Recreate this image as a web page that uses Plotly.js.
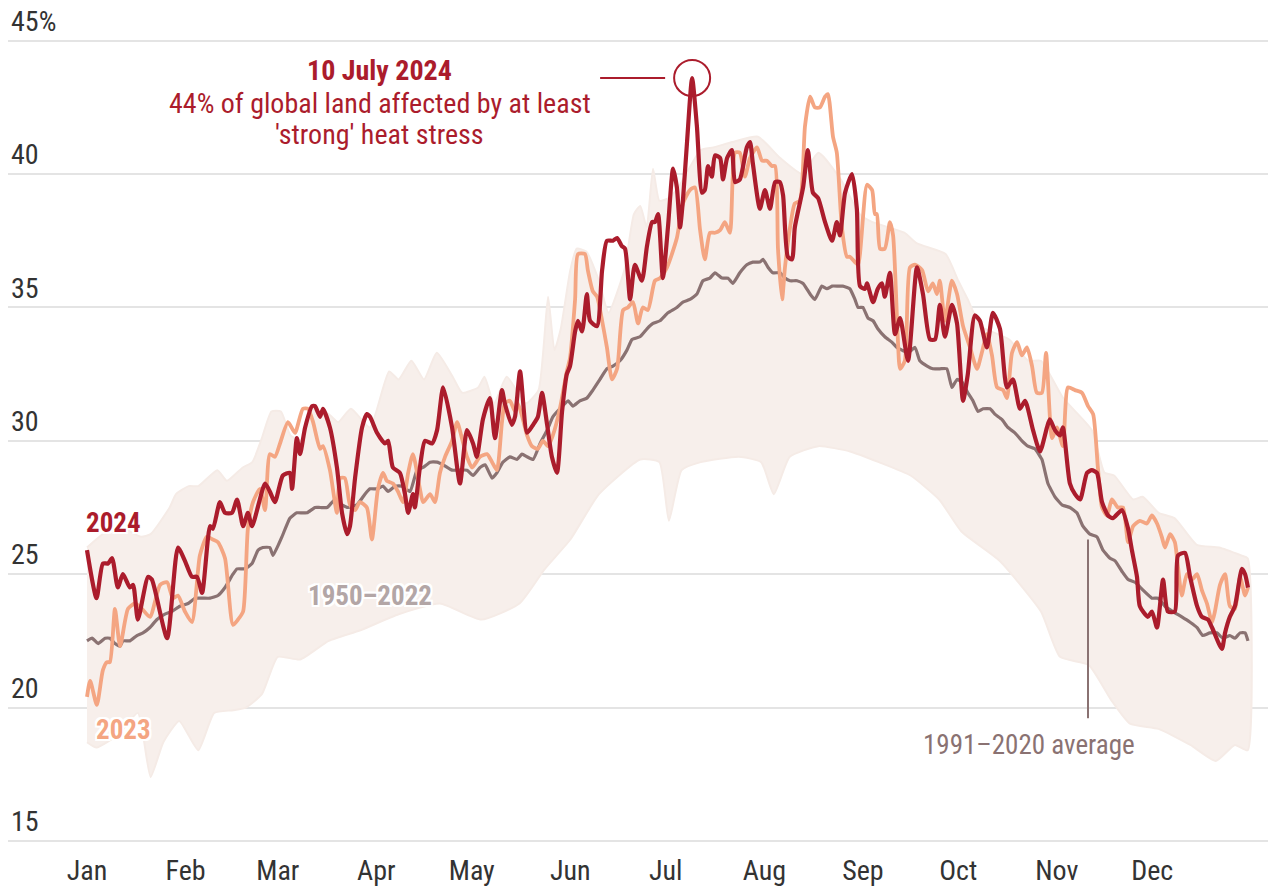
<!DOCTYPE html>
<html>
<head>
<meta charset="utf-8">
<script src="https://cdn.plot.ly/plotly-3.0.1.min.js"></script>
<style>
html,body{margin:0;padding:0;background:#fff;}
#chart{width:1268px;height:891px;}
</style>
</head>
<body>
<div id="chart"></div>
<script>
// ---- Data (day of year, % of global land with at least 'strong' heat stress) ----
const monthDays = [1,32,61,92,122,153,183,214,245,275,306,336];
const monthLabels = ["Jan","Feb","Mar","Apr","May","Jun","Jul","Aug","Sep","Oct","Nov","Dec"];
const yTickVals = [15,20,25,30,35,40,45];
const yTickText = ["15","20","25","30","35","40","45%"];

const days2024 = [1,4,6,7.6,8.9,10.7,12.3,14.5,15.5,17,20.2,21.4,26.2,29.6,31.8,34,35.6,37.2,39.7,40.6,42.8,44.4,46.6,48.2,50.1,51.6,52.9,57,58.5,60.1,62.6,64.8,65.5,67,68,69.6,71.8,72.7,74.3,75.2,77.4,79.6,81.2,82.8,83.7,85.3,87.5,89,90,92.2,94.7,95.7,97.2,99.4,101,102,103.5,104.1,105.7,107.3,109.5,111.1,113,115.8,118.3,120.5,122.4,123.6,125.5,127.7,129.3,131.5,132.4,134.6,135.6,137.2,139.4,141.3,142.8,144.1,145.7,147.2,148.8,150.4,151.9,152.9,154.5,155.4,156.7,158.2,159.2,161.4,163,164.5,166.4,167.7,169.2,170.2,171.8,173.3,175.5,177.1,178.7,179.6,180.6,182.1,183.7,185.3,186.5,187.5,188.4,189.7,191.3,192.8,194.4,195.3,196.3,197.5,198.5,200.1,201,202.3,203.8,204.8,206.3,208.5,209.5,210.4,212.6,214.2,215.8,217.4,218.9,219.9,221.4,222.7,223.6,226.2,227.7,229.3,230.9,233.1,235.3,236.8,237.8,239.4,241.6,243.1,244.1,245.7,246.3,248.2,249.7,251,251.9,253.5,255.1,256.7,259.2,262,263.9,266.1,267.7,269.2,270.8,273,274.6,276.5,278,280.2,281.8,284,285.9,288.1,290.3,292.2,294.4,296,298.5,300.7,302.9,303.8,305.4,307,307.9,310.1,311.7,313.3,315.5,317,318.6,320.2,322.1,323.6,326.5,328.4,329.6,331.2,332.1,334.6,335.9,337.5,339.4,340.9,343.1,344.1,346.3,347.9,350.1,351.6,353.5,354.8,357.9,358.9,360.4,362,364.2,365.2,366.1];
const vals2024 = [25.9,24.1,25.4,25.4,25.6,24.5,25.0,24.5,24.6,23.3,24.9,24.8,22.6,26.0,25.5,24.9,24.9,24.3,26.8,26.7,27.7,27.3,27.3,27.8,26.8,27.3,26.8,28.4,28.1,27.7,28.7,28.8,28.2,30.1,29.5,30.5,31.3,31.3,30.9,31.2,30.5,29.0,27.3,26.5,26.8,28.6,30.5,31.0,30.9,30.3,29.9,30.0,29.0,28.8,28.0,27.3,28.0,27.5,29.0,30.0,29.9,30.4,32.0,30.5,28.4,30.4,29.9,29.4,30.8,31.6,30.1,31.9,31.4,30.6,30.9,32.6,30.3,30.6,30.9,31.8,30.6,29.4,28.8,31.1,32.5,32.8,34.1,34.5,34.1,35.5,34.5,34.3,36.4,37.5,37.5,37.6,37.3,37.2,35.3,36.6,36.0,37.3,38.2,38.2,38.5,36.1,38.0,40.2,39.5,38.0,39.0,41.2,43.6,41.8,39.3,39.4,40.3,39.9,40.7,40.6,39.8,40.6,40.9,39.7,39.8,41.0,41.2,40.4,38.7,39.4,38.7,39.7,39.7,39.2,36.9,36.8,38.0,39.5,40.9,39.3,39.1,38.2,37.5,38.2,37.7,39.3,40.0,38.7,35.8,35.7,35.9,35.2,35.7,35.9,35.4,36.3,34.0,34.6,33.0,36.5,35.5,33.8,33.8,35.1,33.9,35.1,34.4,31.5,32.5,34.7,34.5,33.5,34.8,34.2,32.0,32.3,31.2,31.5,30.4,29.6,30.5,30.8,30.4,30.2,30.5,28.4,28.0,27.8,28.8,28.9,28.8,27.7,27.2,27.1,27.4,26.7,25.9,24.9,23.8,23.4,23.6,23.0,24.8,23.6,23.6,25.7,25.8,24.9,23.8,23.4,23.3,23.0,22.2,22.8,23.4,23.8,25.2,25.0,24.5];

const days2023 = [1,2,4.1,6,7.3,8.2,9.8,11.4,13.9,16.1,18.3,20.8,24,26.2,28,29.6,31.8,34,36.5,38.7,40.6,42.2,44.4,46.9,48.5,50.1,51.6,53.2,55.4,57,58.5,60.1,61.7,64.2,66.4,68.9,70.5,72.1,74.3,75.2,77.4,79.6,80.6,82.1,83.7,85.3,86.8,89,90.6,92.5,94.1,95.3,97.2,98.8,100.4,102,103.5,105.7,106.7,108.9,110.4,112,113.6,115.8,117.4,118.9,120.5,122.1,124.6,126.8,128.4,129.9,131.5,132.4,134,135.6,136.5,138.1,139.4,140.9,142.8,144.4,146,147.5,149.7,151.9,152.9,154.5,155.4,157.6,158.5,160.1,161.4,163,164.5,166.1,167.7,169.6,171.1,172.7,174.3,175.8,177.4,179.6,181.2,183.4,186.5,188.4,190.6,192.2,193.8,195.3,196.9,198.5,200.1,201.6,203.2,204.8,206.3,207.9,209.5,211.7,213.3,214.8,216.4,217.4,218.3,219.6,220.5,222.1,223.6,225.2,226.8,228.4,229.9,231.5,233.1,234,235.6,236.8,238.4,240,240.9,242.5,243.5,246.3,247.9,248.8,249.4,250.4,251.9,253.5,254.5,256,256.7,258.2,259.8,261.4,263.6,265.5,267,268.3,269.2,270.8,273,274.6,276.5,278.7,280.9,282.4,284,285.6,287.2,289.1,290.3,291.9,293.5,295,296.6,298.2,299.7,301.3,302.6,304.5,306,307.9,309.5,311.7,313.9,315.8,317.4,318.9,320.2,321.8,323.3,325.2,326.8,328.4,330,332.1,334.3,335.9,337.5,339,340,341.6,343.1,343.8,345.3,346.9,348.5,350.1,351.6,353.2,354.8,355.7,357.3,358.9,360.4,362,363.6,365.2,366.1];
const vals2023 = [20.4,21.0,20.1,21.4,21.7,21.7,23.7,22.3,23.7,23.9,23.7,23.4,24.6,24.7,24.1,24.2,23.6,23.2,25.7,26.4,26.3,26.2,25.6,23.1,23.3,23.6,26.7,27.7,28.2,27.4,29.5,29.4,29.9,30.7,30.3,31.2,31.2,30.7,29.7,29.8,28.9,27.3,28.6,28.6,27.6,27.4,27.7,27.5,26.3,28.2,28.8,28.5,28.4,28.1,27.7,28.8,29.5,28.2,27.7,28.0,27.7,28.8,29.4,30.0,30.7,30.1,29.4,29.0,29.4,29.5,29.2,28.9,30.7,31.4,31.5,31.1,31.4,30.8,30.2,29.8,29.7,30.0,29.8,30.2,31.2,32.6,33.1,35.3,37.0,37.0,36.4,35.6,35.4,34.5,33.5,32.3,32.7,34.9,35.0,35.2,34.4,35.0,34.9,36.0,36.1,36.5,37.6,38.9,39.4,39.5,37.9,36.8,37.8,37.8,37.9,38.2,37.8,40.8,40.8,39.9,40.6,41.0,40.5,40.5,40.3,40.3,37.2,35.3,36.5,38.0,38.9,39.0,41.8,42.9,42.5,42.5,42.9,43.0,41.4,40.8,38.0,36.9,36.9,36.7,36.6,39.6,39.4,38.5,38.5,37.2,37.2,38.2,37.7,33.8,32.7,33.0,36.5,36.6,36.4,35.6,35.9,35.5,36.0,34.5,36.0,35.5,34.3,33.5,32.7,33.3,34.0,33.2,32.0,31.9,31.6,33.3,33.7,33.2,33.5,32.8,31.8,31.8,33.3,30.1,30.5,29.8,32.0,31.9,31.8,31.3,31.0,29.0,27.5,27.2,27.8,27.5,27.5,26.2,26.8,27.0,26.9,27.2,26.9,26.4,26.0,26.5,26.2,25.6,24.2,25.0,24.8,25.0,24.4,23.9,23.2,23.6,24.6,25.0,23.8,23.7,24.9,24.2,24.5];

const daysAvg = [1,2.6,4.5,6.7,8.2,9.8,11.4,12.3,14.5,16.7,18.6,20.8,23,25.5,27.7,30.2,32.8,35,37.5,39.7,42.2,44.4,46.9,48.2,50.7,52.9,54.8,56.3,58.5,59.5,62.3,64.8,67,68.6,70.2,72.7,74.3,76.5,79,81.2,83.1,85.9,88.4,90,92.2,94.1,95.7,97.9,100.1,102.6,104.8,106.7,108.9,111.1,113,115.8,117.7,120.5,122.4,124.6,126.2,128.4,129.9,131.8,134,136.2,137.8,139.4,141.3,143.5,145.7,147.5,149.7,152.3,153.8,156,158.2,160.1,162.3,164.5,166.4,168.6,170.8,172.4,174.9,177.1,179,181.2,183.7,186.5,188.4,190.6,192.8,194.7,196.9,198.5,200.7,202.6,204.1,206.3,208.5,210.4,212.6,213.6,215.2,216.7,218.9,220.5,222.1,224.3,226.2,228.4,229.9,232.1,233.7,235.3,237.2,238.7,240.9,242.5,243.5,245,246.6,248.2,249.7,251.9,254.1,255.7,257.3,259.2,261.4,262.9,265.2,267,269.2,271.4,273,274.6,276.2,278,279.6,281.2,282.8,285,286.5,288.7,290.6,292.8,295,296.9,299.1,301.3,303.2,305.4,307.6,310.1,312.3,314.2,316.4,318.6,320.5,322.7,324.3,326.5,328.4,330.6,333.1,335.9,337.8,340,342.5,345.3,347.9,350.1,351.9,354.1,356.3,358.2,360.4,362,363.6,365.2,366.1];
const valsAvg = [22.5,22.6,22.4,22.6,22.6,22.4,22.3,22.5,22.5,22.7,22.8,23.0,23.3,23.5,23.6,23.8,23.9,24.1,24.1,24.1,24.2,24.5,25.0,25.2,25.2,25.4,25.9,26.0,26.0,25.7,26.4,27.1,27.3,27.3,27.3,27.5,27.5,27.5,27.8,27.6,27.5,27.6,28.0,28.2,28.2,28.3,28.1,28.3,28.3,28.1,28.9,29.0,29.2,29.2,29.1,28.9,28.9,28.9,28.7,29.0,29.1,28.6,28.8,29.2,29.4,29.3,29.5,29.4,29.3,29.9,30.4,30.9,31.2,31.5,31.3,31.5,31.6,31.9,32.3,32.7,32.8,33.0,33.4,33.8,33.9,34.2,34.4,34.5,34.8,35.0,35.2,35.3,35.5,36.0,36.1,36.3,36.1,36.1,35.9,36.3,36.6,36.7,36.7,36.8,36.5,36.3,36.3,36.1,36.0,36.0,35.9,35.5,35.3,35.8,35.7,35.8,35.8,35.8,35.7,35.3,35.0,35.0,34.6,34.5,34.2,33.9,33.7,33.5,33.4,33.3,33.5,33.0,32.8,32.7,32.7,32.7,32.0,32.3,32.2,31.8,31.5,31.1,31.2,31.2,31.0,30.8,30.5,30.3,30.0,29.8,29.7,29.3,28.4,27.9,27.6,27.5,27.3,26.8,26.5,26.4,25.9,25.6,25.5,25.1,24.8,24.7,24.4,24.1,24.1,23.8,23.6,23.4,23.2,23.0,22.7,22.8,22.8,22.6,22.7,22.6,22.8,22.8,22.5];

// 1950–2022 range: upper and lower edges of the bundle of past years
const daysBandHigh = [1,6,11,18,21,27,29,33,36,42,45,50,53,56,59,62,65,69,71,77,80,84,90,96,99,103,107,111,116,119,124,126,129,133,139,143,146,148,150,153,155,158,162,165,170,173,175,177,179,181,184,187,194,198,204,212,219,226,231,238,244,248,258,262,271,275,278,282,291,297,301,308,317,321,324,330,333,338,343,350,357,364,366];
const valsBandHigh = [26.0,26.5,26.8,26.4,26.5,27.5,28.0,28.3,28.3,28.9,28.5,29.0,29.2,30.1,31.1,31.1,30.2,30.0,31.2,31.0,30.7,31.2,30.5,32.6,32.3,33.0,32.3,33.3,32.4,31.8,32.0,32.4,31.4,32.4,31.4,31.9,35.4,33.4,34.2,36.4,37.2,37.1,36.0,34.8,36.4,38.5,38.8,38.0,40.2,39.0,39.1,39.5,40.9,41.0,41.2,41.4,40.6,40.0,40.8,39.8,38.5,38.2,37.8,37.4,37.0,36.0,35.3,34.3,33.8,33.0,33.0,31.6,30.4,28.8,28.7,27.8,27.9,27.3,27.1,26.1,26.0,25.7,25.6];
const daysBandLow = [1,4,11,17,21,25,30,36,41,47,51,56,61,68,77,87,99,112,125,137,145,153,162,175,181,184,188,194,206,213,217,222,231,241,250,260,269,276,288,301,307,316,323,329,338,348,356,362,366];
const valsBandLow = [18.7,18.5,19.0,19.8,17.4,18.7,19.5,18.4,19.8,19.9,20.0,20.5,21.9,21.8,22.5,22.9,23.5,23.9,23.3,23.9,25.2,26.3,28.0,29.3,29.2,27.0,28.9,29.2,29.4,29.2,28.0,29.4,29.8,29.6,29.2,28.7,27.8,26.6,25.5,23.6,21.9,21.6,20.3,19.4,19.2,18.6,18.0,18.6,18.4];

const peakDay = 191.3, peakVal = 43.6;

// ---- Styling ----
const FONT = "'Roboto Condensed', 'Roboto', sans-serif";
const RED = "#ab1c2c", ORANGE = "#f4a582", AVG = "#8a7272", BAND = "#f7efeb", BANDLINE = "#f5ebe6";
const halo = "-2px -2px 0 #fff, 2px -2px 0 #fff, -2px 2px 0 #fff, 2px 2px 0 #fff, 0 2px 0 #fff, 0 -2px 0 #fff, 2px 0 0 #fff, -2px 0 0 #fff";

const bandX = daysBandHigh.concat(daysBandLow.slice().reverse());
const bandY = valsBandHigh.concat(valsBandLow.slice().reverse());

const traces = [
  {x: bandX, y: bandY, type: "scatter", mode: "lines", fill: "toself", fillcolor: BAND,
   line: {color: BANDLINE, width: 2, shape: "spline", smoothing: 0.5}, hoverinfo: "skip", name: "1950–2022"},
  {x: daysAvg, y: valsAvg, type: "scatter", mode: "lines",
   line: {color: AVG, width: 3.2, shape: "spline", smoothing: 0.4}, name: "1991–2020 average"},
  {x: days2023, y: vals2023, type: "scatter", mode: "lines",
   line: {color: ORANGE, width: 3.8, shape: "spline", smoothing: 0.6}, name: "2023"},
  {x: days2024, y: vals2024, type: "scatter", mode: "lines",
   line: {color: RED, width: 4.2, shape: "spline", smoothing: 0.6}, name: "2024"}
];

const layout = {
  width: 1268, height: 891,
  margin: {l: 8, r: 0, t: 0, b: 48.9},
  paper_bgcolor: "#fff", plot_bgcolor: "#fff",
  showlegend: false,
  font: {family: FONT, color: "#333", size: 28},
  xaxis: {
    range: [-23.84, 372.4], tickvals: monthDays, ticktext: monthLabels,
    showgrid: false, zeroline: false, showline: false, ticks: "",
    tickfont: {family: FONT, size: 28, color: "#333"}, ticklabelstandoff: 9, fixedrange: true
  },
  yaxis: {
    range: [14.96, 46.525], tickvals: yTickVals, ticktext: yTickText,
    ticklabelposition: "inside top", showgrid: true, gridcolor: "#e4e4e4", gridwidth: 2,
    zeroline: false, showline: false, ticks: "",
    tickfont: {family: FONT, size: 28, color: "#333"}, fixedrange: true
  },
  shapes: [
    {type: "circle", xref: "x", yref: "y", xsizemode: "pixel", ysizemode: "pixel",
     xanchor: peakDay, yanchor: peakVal, x0: -18, x1: 18, y0: -18, y1: 18,
     line: {color: RED, width: 2}},
    {type: "line", xref: "x", yref: "y", xsizemode: "pixel", ysizemode: "pixel",
     xanchor: peakDay, yanchor: peakVal, x0: -92, x1: -27, y0: 0, y1: 0,
     line: {color: RED, width: 2}},
    {type: "line", xref: "x", yref: "y", x0: 315.8, x1: 315.8, y0: 19.6, y1: 26.3,
     line: {color: AVG, width: 2}}
  ],
  annotations: [
    {xref: "x", yref: "y", x: 93.1, y: 43.90, showarrow: false,
     text: "<b>10 July 2024</b>", font: {family: FONT, size: 28, color: RED}},
    {xref: "x", yref: "y", x: 93.1, y: 42.66, showarrow: false,
     text: "44% of global land affected by at least", font: {family: FONT, size: 28, color: RED}},
    {xref: "x", yref: "y", x: 93.1, y: 41.47, showarrow: false,
     text: "'strong' heat stress", font: {family: FONT, size: 28, color: RED}},
    {xref: "x", yref: "y", x: 0.2, y: 26.92, xanchor: "left", showarrow: false,
     text: "<b>2024</b>", font: {family: FONT, size: 27, color: RED, shadow: halo}},
    {xref: "x", yref: "y", x: 3.2, y: 19.16, xanchor: "left", showarrow: false,
     text: "<b>2023</b>", font: {family: FONT, size: 27, color: ORANGE, shadow: halo}},
    {xref: "x", yref: "y", x: 90, y: 24.19, showarrow: false,
     text: "<b>1950–2022</b>", font: {family: FONT, size: 27, color: "#b3a6a6", shadow: halo}},
    {xref: "x", yref: "y", x: 297.2, y: 18.6, showarrow: false,
     text: "1991–2020 average", font: {family: FONT, size: 27, color: AVG}}
  ]
};

Plotly.newPlot("chart", traces, layout, {displayModeBar: false, staticPlot: true});
</script>
</body>
</html>
